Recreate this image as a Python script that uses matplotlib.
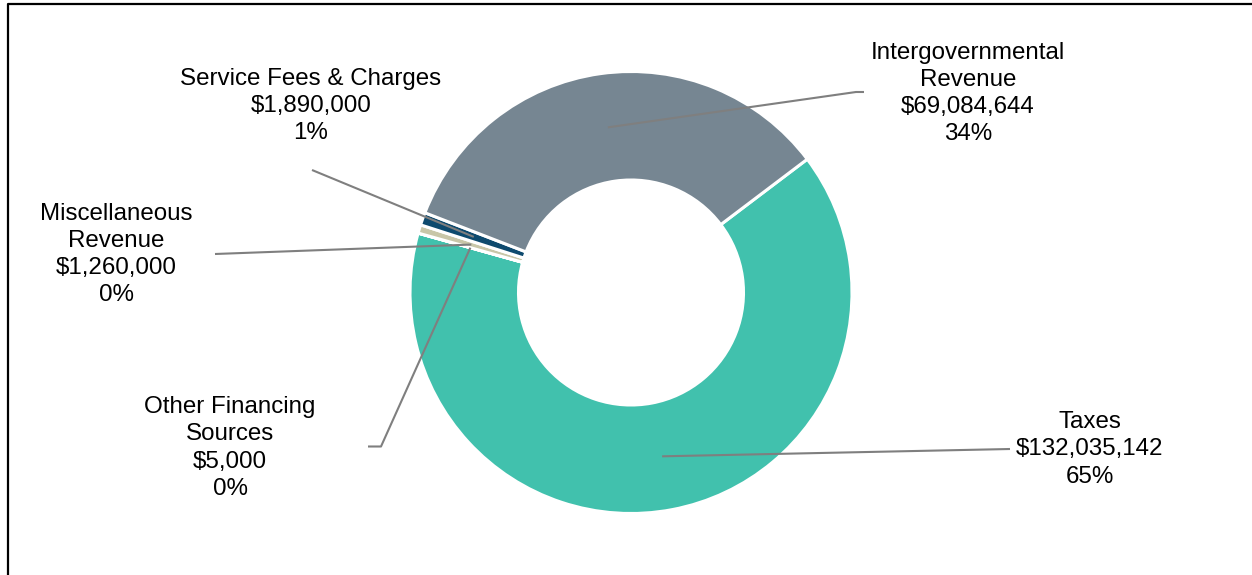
import numpy as np
import matplotlib.pyplot as plt

plt.rcParams['font.family'] = ['Liberation Sans', 'DejaVu Sans']

# data, in the order the slices run clockwise
categories = ["Taxes", "Other Financing\nSources", "Miscellaneous\nRevenue",
              "Service Fees & Charges", "Intergovernmental\nRevenue"]
amounts = [132035142, 5000, 1260000, 1890000, 69084644]
pct_labels = ["65%", "0%", "0%", "1%", "34%"]
colors = ["#41C1AD", "#41C1AD", "#C8C6A8", "#0E4A6E", "#768692"]

W, H = 1252, 575
cx, cy = 631, H - 292.5
r_out, r_in = 221, 112.5
start = 90 - 52.9  # taxes slice begins ~53 deg clockwise from 12 o'clock

fig = plt.figure(figsize=(W / 100, H / 100), dpi=100)
ax = fig.add_axes([0, 0, 1, 1])
ax.set_xlim(0, W)
ax.set_ylim(0, H)
ax.set_aspect("equal")
ax.axis("off")

wedges, _ = ax.pie(amounts, colors=colors, center=(cx, cy), radius=r_out,
                   startangle=start, counterclock=False,
                   wedgeprops=dict(width=r_out - r_in, edgecolor="white", linewidth=2.2))
ax.set_xlim(0, W)
ax.set_ylim(0, H)

# label placement: (text x, text y, leader path points in pixel coords)
label_pos = [
    (1090, 449.5, [(1010, 449)]),
    (230, 448, [(381, 446.5), (368, 446.5)]),
    (116, 254.5, [(215, 254)]),
    (311, 106, [(312, 170)]),
    (968, 93.5, [(856, 92), (864, 92)]),
]

r_mid = (r_out + r_in) / 2
for w, name, amt, pct, (tx, ty, path) in zip(wedges, categories, amounts, pct_labels, label_pos):
    mid = np.deg2rad((w.theta1 + w.theta2) / 2)
    ax_pt = (cx + r_mid * np.cos(mid), cy + r_mid * np.sin(mid))
    xs = [ax_pt[0]] + [p[0] for p in path]
    ys = [ax_pt[1]] + [H - p[1] for p in path]
    ax.plot(xs, ys, color="#7F7F7F", lw=1.5, solid_capstyle="butt", zorder=3)
    ax.text(tx, H - ty, f"{name}\n${amt:,.0f}\n{pct}", ha="center", va="center",
            fontsize=17.4, linespacing=1.31, color="#000000")

# outer frame (clipped at the right and bottom)
ax.plot([8, 8, W + 10], [-10, H - 4, H - 4], color="black", lw=1.6, clip_on=False)

fig.savefig("out.png", dpi=100)
